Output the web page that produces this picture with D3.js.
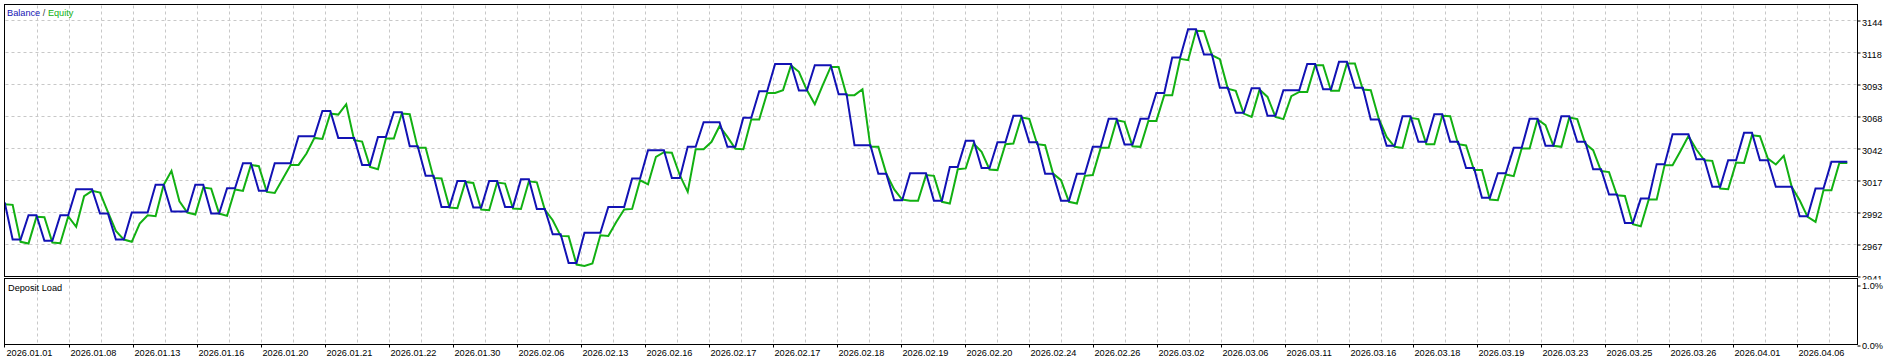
<!DOCTYPE html>
<html>
<head>
<meta charset="utf-8">
<script src="https://cdn.jsdelivr.net/npm/d3@7"></script>
<style>
  html, body { margin: 0; padding: 0; background: #ffffff; }
  svg { display: block; }
  text { font-family: "Liberation Sans", Arial, sans-serif; font-size: 9.2px; fill: #000; }
</style>
</head>
<body>
<svg id="chart" width="1902" height="362"></svg>
<script>
// ---------- data ----------
const balance = [
  2999.7,2970.3,2970.3,2989.6,2989.6,2969.3,2969.3,2989.6,2989.6,3010.2,
  3010.2,3010.2,2990.9,2990.9,2970.3,2970.3,2991.7,2991.7,2991.7,3013.7,
  3013.7,2992.5,2992.5,2992.5,3013.7,3013.7,2990.9,2990.9,3011.0,3011.0,
  3030.8,3030.8,3008.9,3008.9,3030.8,3030.8,3030.8,3052.3,3052.3,3052.3,
  3072.3,3072.3,3050.9,3050.9,3050.9,3029.5,3029.5,3051.7,3051.7,3071.3,
  3071.3,3044.3,3044.3,3020.8,3020.8,2996.2,2996.2,3016.8,3016.8,2995.7,
  2995.7,3016.8,3016.8,2996.2,2996.2,3018.2,3018.2,2994.6,2994.6,2974.5,
  2974.5,2951.8,2951.8,2975.6,2975.6,2975.6,2996.2,2996.2,2996.2,3018.7,
  3018.7,3041.2,3041.2,3041.2,3019.2,3019.2,3043.8,3043.8,3063.4,3063.4,
  3063.4,3043.8,3043.8,3066.8,3066.8,3087.9,3087.9,3109.6,3109.6,3109.6,
  3088.5,3088.5,3108.6,3108.6,3108.6,3085.6,3085.6,3045.1,3045.1,3045.1,
  3022.4,3022.4,3001.5,3001.5,3022.9,3022.9,3022.9,3001.0,3001.0,3027.9,
  3027.9,3048.6,3048.6,3027.1,3027.1,3047.5,3047.5,3068.4,3068.4,3047.5,
  3047.5,3022.4,3022.4,3001.0,3001.0,3022.4,3022.4,3043.8,3043.8,3066.0,
  3066.0,3045.6,3045.6,3066.0,3066.0,3086.6,3086.6,3114.6,3114.6,3137.1,
  3137.1,3117.0,3117.0,3090.6,3090.6,3070.8,3070.8,3090.3,3090.3,3068.4,
  3068.4,3088.7,3088.7,3088.7,3109.6,3109.6,3089.5,3089.5,3111.2,3111.2,
  3090.6,3090.6,3065.5,3065.5,3044.6,3044.6,3068.1,3068.1,3047.8,3047.8,
  3069.7,3069.7,3047.8,3047.8,3027.1,3027.1,3003.4,3003.4,3022.9,3022.9,
  3043.0,3043.0,3066.0,3066.0,3044.6,3044.6,3068.1,3068.1,3047.8,3047.8,
  3026.1,3026.1,3006.0,3006.0,2983.5,2983.5,3002.8,3002.8,3030.1,3030.1,
  3053.8,3053.8,3053.8,3034.0,3034.0,3012.1,3012.1,3033.2,3033.2,3054.9,
  3054.9,3033.2,3033.2,3012.1,3012.1,3012.1,2988.8,2988.8,3010.7,3010.7,
  3031.9,3031.9,3031.9
];
const equity = [
  2998.3,2997.8,2968.5,2967.1,2988.3,2988.0,2968.0,2967.4,2988.6,2980.4,
  3004.7,3008.9,3007.6,2992.0,2977.2,2970.3,2968.5,2983.0,2989.6,2988.8,
  3013.4,3024.8,3000.7,2991.7,2990.1,3011.5,3010.7,2990.9,2989.1,3010.0,
  3008.9,3029.5,3028.5,3008.1,3007.3,3018.4,3029.5,3029.5,3038.5,3050.9,
  3050.1,3070.2,3069.4,3077.6,3049.1,3048.0,3027.9,3026.1,3050.4,3050.4,
  3070.2,3069.7,3043.0,3043.0,3019.2,3018.7,2995.7,2995.2,3016.0,3015.2,
  2994.1,2993.6,3015.5,3014.7,2994.9,2994.6,3016.5,3015.7,2994.1,2985.6,
  2973.2,2973.0,2950.5,2949.4,2951.3,2973.7,2973.2,2984.3,2994.1,2994.6,
  3017.3,3014.1,3035.9,3039.6,3039.1,3021.3,3008.1,3041.9,3041.9,3047.8,
  3060.2,3051.7,3042.3,3041.9,3065.5,3065.5,3086.6,3086.6,3088.8,3108.3,
  3103.3,3088.8,3077.6,3092.7,3107.2,3107.2,3084.8,3084.8,3089.5,3043.8,
  3043.8,3022.6,3010.0,3002.0,3001.0,3001.0,3021.4,3020.8,3000.2,2998.9,
  3026.1,3026.7,3046.4,3039.8,3025.9,3025.4,3045.9,3046.4,3067.1,3066.0,
  3045.9,3045.1,3022.6,3017.4,3000.2,2998.9,3020.8,3021.4,3043.0,3043.0,
  3064.9,3063.6,3044.3,3043.8,3064.4,3064.4,3084.8,3084.8,3113.6,3112.5,
  3135.8,3135.5,3116.5,3113.3,3090.0,3088.2,3070.2,3067.6,3089.2,3083.4,
  3067.6,3065.8,3084.0,3087.4,3087.4,3108.6,3108.6,3088.2,3088.2,3109.9,
  3109.9,3089.2,3088.7,3066.3,3051.7,3043.8,3043.0,3066.8,3065.8,3045.9,
  3045.9,3068.4,3068.1,3045.9,3044.9,3025.4,3025.4,3002.0,3001.5,3021.9,
  3020.6,3042.5,3042.5,3065.5,3061.0,3044.6,3043.8,3067.1,3065.8,3046.4,
  3041.2,3024.6,3023.8,3005.4,3004.9,2982.5,2980.9,3002.0,3002.0,3029.3,
  3029.3,3040.6,3052.3,3041.7,3033.2,3032.7,3010.7,3010.2,3031.3,3031.1,
  3053.0,3052.3,3034.5,3029.8,3036.7,3012.1,3001.5,2988.3,2984.3,3009.4,
  3009.4,3031.1,3031.1
];
const xLabels = [
  "2026.01.01","2026.01.08","2026.01.13","2026.01.16","2026.01.20","2026.01.21",
  "2026.01.22","2026.01.30","2026.02.06","2026.02.13","2026.02.16","2026.02.17",
  "2026.02.17","2026.02.18","2026.02.19","2026.02.20","2026.02.24","2026.02.26",
  "2026.03.02","2026.03.06","2026.03.11","2026.03.16","2026.03.18","2026.03.19",
  "2026.03.23","2026.03.25","2026.03.26","2026.04.01","2026.04.06"
];
const yLabels = ["2941","2967","2992","3017","3042","3068","3093","3118","3144"];
const loadLabels = ["0.0%","1.0%"];
const seriesNames = ["Balance","Equity"];

// ---------- layout ----------
const L = 4.5, R = 1857.5, T = 4.5, B = 276.5;      // main panel
const subT = 278.5, subB = 344.5;                    // deposit load panel
const yMin = 2941, yMax = 3144;
const gridCount = 58;                                // vertical grid lines
const colBal = "#1212b4", colEq = "#12b012", gridCol = "#c8c8c8";

const svg = d3.select("#chart");
svg.append("rect").attr("width", 1902).attr("height", 362).attr("fill", "#fff");

const x = d3.scaleLinear().domain([0, balance.length - 1]).range([4.7, 1847.3]);
const y = d3.scaleLinear().domain([yMin, yMax]).range([B, 20.5]);
const gx = d3.scaleLinear().domain([0, gridCount - 1]).range([5.5, 1829.5]);
const yTickVals = yLabels.map((_, k) => yMin + k * (yMax - yMin) / (yLabels.length - 1));
const ySub = d3.scaleLinear().domain([0, 1]).range([345.5, 285.5]);

// vertical grid (both panels)
const gridIdx = d3.range(1, gridCount);
const vg = svg.append("g").attr("stroke", gridCol).attr("stroke-width", 1).attr("stroke-dasharray", "3,3");
vg.selectAll("line.m").data(gridIdx).join("line")
  .attr("x1", d => gx(d)).attr("x2", d => gx(d)).attr("y1", T + 1).attr("y2", B);
vg.selectAll("line.s").data(gridIdx).join("line")
  .attr("x1", d => gx(d)).attr("x2", d => gx(d)).attr("y1", subT + 1).attr("y2", subB);

// horizontal grid (main)
svg.append("g").attr("stroke", gridCol).attr("stroke-width", 1).attr("stroke-dasharray", "3,3")
  .selectAll("line").data(yTickVals.slice(1)).join("line")
  .attr("x1", L + 1).attr("x2", R).attr("y1", d => y(d)).attr("y2", d => y(d));

// clip for series
svg.append("clipPath").attr("id", "plotClip")
  .append("rect").attr("x", L).attr("y", T).attr("width", R - L).attr("height", B - T);

const line = d3.line().x((d, i) => x(i)).y(d => y(d));
const series = svg.append("g").attr("clip-path", "url(#plotClip)");
series.append("path").datum(equity).attr("d", line)
  .attr("fill", "none").attr("stroke", colEq).attr("stroke-width", 2).attr("stroke-linejoin", "miter");
series.append("path").datum(balance).attr("d", line)
  .attr("fill", "none").attr("stroke", colBal).attr("stroke-width", 2).attr("stroke-linejoin", "miter");

// frames
const fr = svg.append("g").attr("fill", "none").attr("stroke", "#000").attr("stroke-width", 1);
fr.append("rect").attr("x", L).attr("y", T).attr("width", R - L).attr("height", B - T);
fr.append("rect").attr("x", L).attr("y", subT).attr("width", R - L).attr("height", subB - subT);

// y axis (main) - clipped at the panel separator (clip in the group's local coords)
svg.append("clipPath").attr("id", "axClip")
  .append("rect").attr("x", 0).attr("y", 0).attr("width", 60).attr("height", 279.5);
const yAxis = d3.axisRight(y).tickValues(yTickVals)
  .tickFormat((d, k) => yLabels[k]).tickSize(3).tickPadding(1.5);
const ya = svg.append("g").attr("transform", `translate(${R},0)`).call(yAxis);
ya.attr("clip-path", "url(#axClip)");
ya.select(".domain").remove();
ya.selectAll("line").attr("stroke", "#000");
ya.selectAll("text").attr("dy", "0.5em").style("font-family", "'Liberation Sans', Arial, sans-serif").style("font-size", "9.2px").attr("fill", "#000");

// y axis (deposit load)
const sAxis = d3.axisRight(ySub).tickValues([0, 1]).tickFormat((d, k) => loadLabels[k]).tickSize(3).tickPadding(1.5);
const sa = svg.append("g").attr("transform", `translate(${R},0)`).call(sAxis);
sa.select(".domain").remove();
sa.selectAll("line").attr("stroke", "#000");
sa.selectAll("text").attr("dy", "0.35em").style("font-family", "'Liberation Sans', Arial, sans-serif").style("font-size", "9.2px").attr("fill", "#000");

// x axis labels (every second grid line)
const labelGrid = xLabels.map((_, j) => 2 * j);
const xa = svg.append("g");
xa.selectAll("line").data(labelGrid).join("line")
  .attr("x1", d => d === 0 ? L : gx(d)).attr("x2", d => d === 0 ? L : gx(d))
  .attr("y1", subB).attr("y2", subB + 3).attr("stroke", "#000");
xa.selectAll("text").data(labelGrid).join("text")
  .attr("x", d => gx(d) + 1).attr("y", 355.5)
  .text((d, j) => xLabels[j]);

// legend
const lg = svg.append("text").attr("x", 7).attr("y", 16);
lg.append("tspan").style("fill", colBal).text(seriesNames[0]);
lg.append("tspan").style("fill", "#404040").text(" / ");
lg.append("tspan").style("fill", colEq).text(seriesNames[1]);

svg.append("text").attr("x", 8).attr("y", 291).text("Deposit Load");
</script>
</body>
</html>
